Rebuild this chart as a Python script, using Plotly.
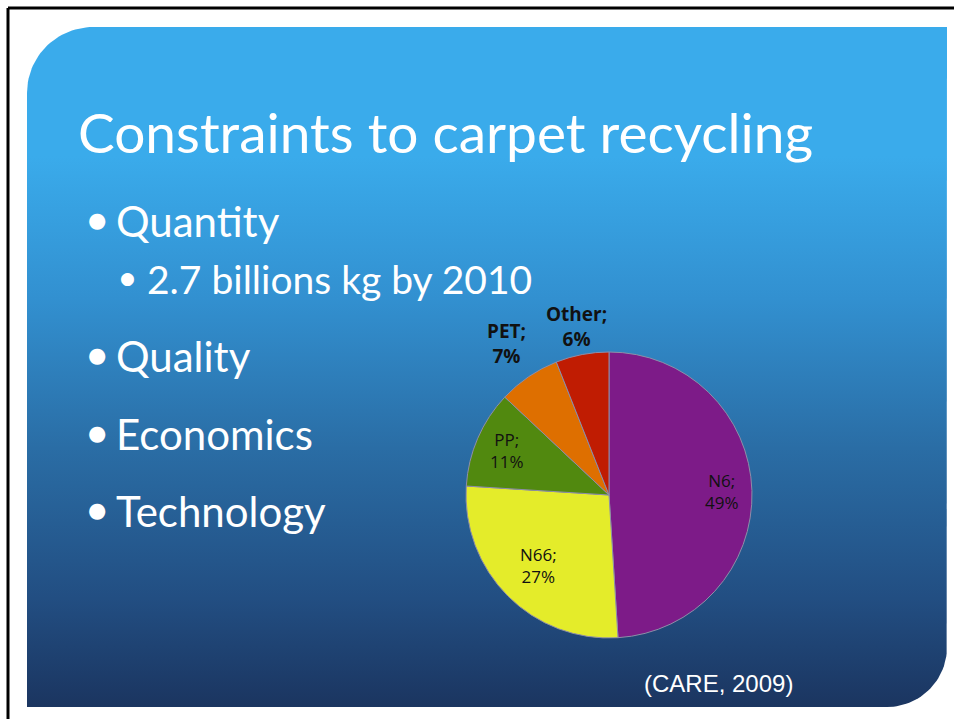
import numpy as np
import plotly.graph_objects as go

# ---- data ----
materials = ["N6", "N66", "PP", "PET", "Other"]
shares = [49, 27, 11, 7, 6]
slice_colors = ["#7D1B88", "#E4EC2A", "#51890F", "#DE6F00", "#C01C02"]

title_text = "Constraints to carpet recycling"
bullets = ["Quantity", "Quality", "Economics", "Technology"]
sub_bullet = "2.7 billions kg by 2010"
source_text = "(CARE, 2009)"

# label placement style (fraction of radius, bold flag)
label_rfrac = [0.79, 0.70, 0.78, 1.28, 1.20]
label_bold = [False, False, False, True, True]

W, H = 954, 719

# ---- slide background (rounded rectangle with vertical gradient) ----
L, T, R, B = 27, 27, 947, 707
r_tl, r_br = 66, 60
th1 = np.linspace(np.pi, 1.5 * np.pi, 30)
th2 = np.linspace(0, 0.5 * np.pi, 30)
px = [L + r_tl + r_tl * np.cos(t) for t in th1] + [R, R] + \
     [R - r_br + r_br * np.cos(t) for t in th2] + [L, L]
py = [T + r_tl + r_tl * np.sin(t) for t in th1] + [T, B - r_br] + \
     [B - r_br + r_br * np.sin(t) for t in th2] + [B, T + r_tl]

fig = go.Figure()
fig.add_trace(go.Scatter(
    x=px, y=py, mode="lines", fill="toself", line=dict(width=0),
    fillgradient=dict(type="vertical", start=T, stop=B,
                      colorscale=[[0, "#3AABEB"], [0.19, "#3AABEB"],
                                  [0.40, "#3290D0"], [0.62, "#2A6DA5"],
                                  [0.84, "#224E82"], [1, "#1B3560"]]),
    hoverinfo="skip", showlegend=False))

# ---- pie ----
cx, cy, rad = 609, 495, 143
fig.add_trace(go.Pie(
    labels=materials, values=shares, sort=False, direction="clockwise",
    rotation=0, hole=0, textinfo="none",
    marker=dict(colors=slice_colors, line=dict(color="#8E8EA8", width=1)),
    domain=dict(x=[(cx - rad) / W, (cx + rad) / W],
                y=[1 - (cy + rad) / H, 1 - (cy - rad) / H]),
    showlegend=False, hoverinfo="skip"))

ann = []
# slice labels positioned from the cumulative shares
total = float(sum(shares))
cum = 0.0
for name, val, f, bold in zip(materials, shares, label_rfrac, label_bold):
    mid = (cum + val / 2) / total * 2 * np.pi
    cum += val
    lx = cx + rad * f * np.sin(mid)
    ly = cy - rad * f * np.cos(mid)
    ann.append(dict(x=lx, y=ly, text=f"{name};<br>{val}%", xanchor="center",
                    yanchor="middle",
                    font=dict(family="Open Sans", size=19 if bold else 17,
                              color="#111111",
                              weight="bold" if bold else "normal")))

# ---- texts ----
font_main = "Lato"
ann.append(dict(x=76, y=132, text=title_text, xanchor="left", yanchor="middle",
                font=dict(family=font_main, size=55, color="white")))
bul_y = [221, 356, 434, 511]
for txt, yv in zip(bullets, bul_y):
    ann.append(dict(x=114, y=yv, text=txt, xanchor="left", yanchor="middle",
                    font=dict(family=font_main, size=42, color="white")))
    ann.append(dict(x=97, y=yv - 1, text="●", xanchor="center", yanchor="middle",
                    font=dict(family="DejaVu Sans", size=21, color="white")))
ann.append(dict(x=145, y=279, text=sub_bullet, xanchor="left", yanchor="middle",
                font=dict(family=font_main, size=39, color="white")))
ann.append(dict(x=127, y=278, text="●", xanchor="center", yanchor="middle",
                font=dict(family="DejaVu Sans", size=17, color="white")))
ann.append(dict(x=642, y=683, text=source_text, xanchor="left", yanchor="middle",
                font=dict(family="Liberation Sans", size=24, color="white")))
for a in ann:
    a.update(xref="x", yref="y", showarrow=False)

shapes = [
    dict(type="line", xref="x", yref="y", x0=8, x1=W, y0=8, y1=8,
         line=dict(color="black", width=3)),
    dict(type="line", xref="x", yref="y", x0=8, x1=8, y0=8, y1=H,
         line=dict(color="black", width=3)),
]

fig.update_layout(
    width=W, height=H, margin=dict(l=0, r=0, t=0, b=0),
    paper_bgcolor="white", plot_bgcolor="white",
    xaxis=dict(range=[0, W], visible=False, domain=[0, 1], fixedrange=True),
    yaxis=dict(range=[H, 0], visible=False, domain=[0, 1], fixedrange=True),
    annotations=ann, shapes=shapes)

fig.write_html("out.html")
